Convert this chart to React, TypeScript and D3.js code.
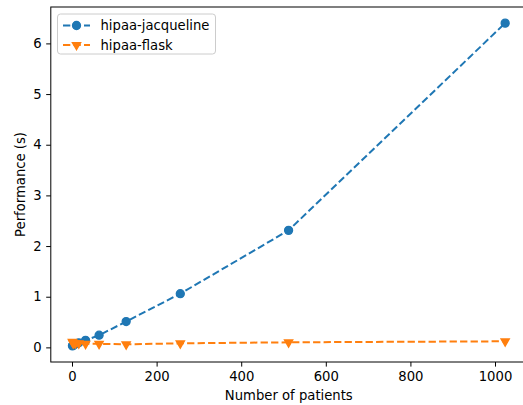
import * as d3 from "d3";
import React, { useRef, useEffect } from "react";

// number of patients (x) and run time in seconds for each backend
const patients = [1, 2, 4, 8, 16, 32, 64, 128, 256, 512, 1024];
const jacqueline = [0.03, 0.04, 0.05, 0.07, 0.09, 0.14, 0.24, 0.51, 1.06, 2.31, 6.4];
const flask = [0.11, 0.09, 0.08, 0.08, 0.08, 0.07, 0.07, 0.06, 0.08, 0.1, 0.12];
const xTicks = [0, 200, 400, 600, 800, 1000];
const yTicks = [0, 1, 2, 3, 4, 5, 6];
const seriesNames = ["hipaa-jacqueline", "hipaa-flask"];

const W = 523;
const H = 405;
const FONT = "DejaVu Sans, sans-serif";
const FS = 13.2;
const BLUE = "#1f77b4";
const ORANGE = "#ff7f0e";
const DASH = "7.3,3.2";
const TRI = 4.8;

export default function App() {
  const ref = useRef<SVGSVGElement>(null);

  useEffect(() => {
    const svg = d3.select(ref.current);
    svg.selectAll("*").remove();

    const left = 50.8, right = 526.8, top = 7, bottom = 362;

    // matplotlib-like 5% margins
    const xMin = d3.min(patients)!, xMax = d3.max(patients)!;
    const xPad = (xMax - xMin) * 0.05;
    const x = d3.scaleLinear().domain([xMin - xPad, xMax + xPad]).range([left, right]);

    const all = jacqueline.concat(flask);
    const yMin = d3.min(all)!, yMax = d3.max(all)!;
    const yPad = (yMax - yMin) * 0.05;
    const y = d3.scaleLinear().domain([yMin - yPad, yMax + yPad]).range([bottom, top]);

    const line = d3
      .line<number>()
      .x((_, i) => x(patients[i]))
      .y((d) => y(d));

    const triPath = (cx: number, cy: number, r: number) =>
      `M${cx},${cy + r}L${cx - r * 0.866},${cy - r / 2}L${cx + r * 0.866},${cy - r / 2}Z`;

    const drawCircles = (g: any, vals: number[]) => {
      g.selectAll("circle.m")
        .data(vals)
        .enter()
        .append("circle")
        .attr("class", "m")
        .attr("cx", (_: number, i: number) => x(patients[i]))
        .attr("cy", (d: number) => y(d))
        .attr("r", 4)
        .attr("fill", BLUE)
        .attr("stroke", BLUE)
        .attr("stroke-width", 1.3);
    };
    const drawTris = (g: any, vals: number[]) => {
      g.selectAll("path.m")
        .data(vals)
        .enter()
        .append("path")
        .attr("class", "m")
        .attr("d", (d: number, i: number) => triPath(x(patients[i]), y(d), TRI))
        .attr("fill", ORANGE)
        .attr("stroke", ORANGE)
        .attr("stroke-width", 1.3)
        .attr("stroke-linejoin", "miter");
    };

    const plot = svg.append("g");

    plot
      .append("path")
      .datum(jacqueline)
      .attr("d", line)
      .attr("fill", "none")
      .attr("stroke", BLUE)
      .attr("stroke-width", 2)
      .attr("stroke-dasharray", DASH);
    drawCircles(plot, jacqueline);

    plot
      .append("path")
      .datum(flask)
      .attr("d", line)
      .attr("fill", "none")
      .attr("stroke", ORANGE)
      .attr("stroke-width", 2)
      .attr("stroke-dasharray", DASH);
    drawTris(plot, flask);

    // axes
    const xAxis = svg
      .append("g")
      .attr("transform", `translate(0,${bottom})`)
      .call(d3.axisBottom(x).tickValues(xTicks).tickSize(4.6).tickPadding(4.6).tickFormat(d3.format("d")));
    const yAxis = svg
      .append("g")
      .attr("transform", `translate(${left},0)`)
      .call(d3.axisLeft(y).tickValues(yTicks).tickSize(4.6).tickPadding(4.6).tickFormat(d3.format("d")));

    [xAxis, yAxis].forEach((a) => {
      a.select(".domain").remove();
      a.selectAll("line").attr("stroke", "#000").attr("stroke-width", 1);
      a.selectAll("text").attr("font-family", FONT).attr("font-size", FS).attr("fill", "#000");
    });

    // spines
    svg
      .append("rect")
      .attr("x", left)
      .attr("y", top)
      .attr("width", right - left)
      .attr("height", bottom - top)
      .attr("fill", "none")
      .attr("stroke", "#000")
      .attr("stroke-width", 1);

    // labels
    svg
      .append("text")
      .attr("x", (left + right) / 2)
      .attr("y", 400)
      .attr("text-anchor", "middle")
      .attr("font-family", FONT)
      .attr("font-size", FS)
      .text("Number of patients");
    svg
      .append("text")
      .attr("transform", `translate(25,${(top + bottom) / 2}) rotate(-90)`)
      .attr("text-anchor", "middle")
      .attr("font-family", FONT)
      .attr("font-size", FS)
      .text("Performance (s)");

    // legend
    const lg = svg.append("g");
    lg.append("rect")
      .attr("x", 57.5)
      .attr("y", 14)
      .attr("width", 158)
      .attr("height", 40)
      .attr("rx", 3)
      .attr("fill", "#fff")
      .attr("fill-opacity", 0.8)
      .attr("stroke", "#cccccc")
      .attr("stroke-width", 1);

    const rows = [25.5, 45];
    const colors = [BLUE, ORANGE];
    rows.forEach((ry, i) => {
      lg.append("line")
        .attr("x1", 63)
        .attr("x2", 90)
        .attr("y1", ry)
        .attr("y2", ry)
        .attr("stroke", colors[i])
        .attr("stroke-width", 2)
        .attr("stroke-dasharray", DASH);
      if (i === 0) {
        lg.append("circle").attr("cx", 76.5).attr("cy", ry).attr("r", 4).attr("fill", BLUE).attr("stroke", BLUE).attr("stroke-width", 1.3);
      } else {
        lg.append("path").attr("d", triPath(76.5, ry, TRI)).attr("fill", ORANGE).attr("stroke", ORANGE).attr("stroke-width", 1.3);
      }
      lg.append("text")
        .attr("x", 100.5)
        .attr("y", ry)
        .attr("dy", "0.35em")
        .attr("font-family", FONT)
        .attr("font-size", FS)
        .text(seriesNames[i]);
    });
  }, []);

  return (
    <svg
      ref={ref}
      width={W}
      height={H}
      style={{ position: "absolute", left: 0, top: 0, background: "#fff" }}
    ></svg>
  );
}
